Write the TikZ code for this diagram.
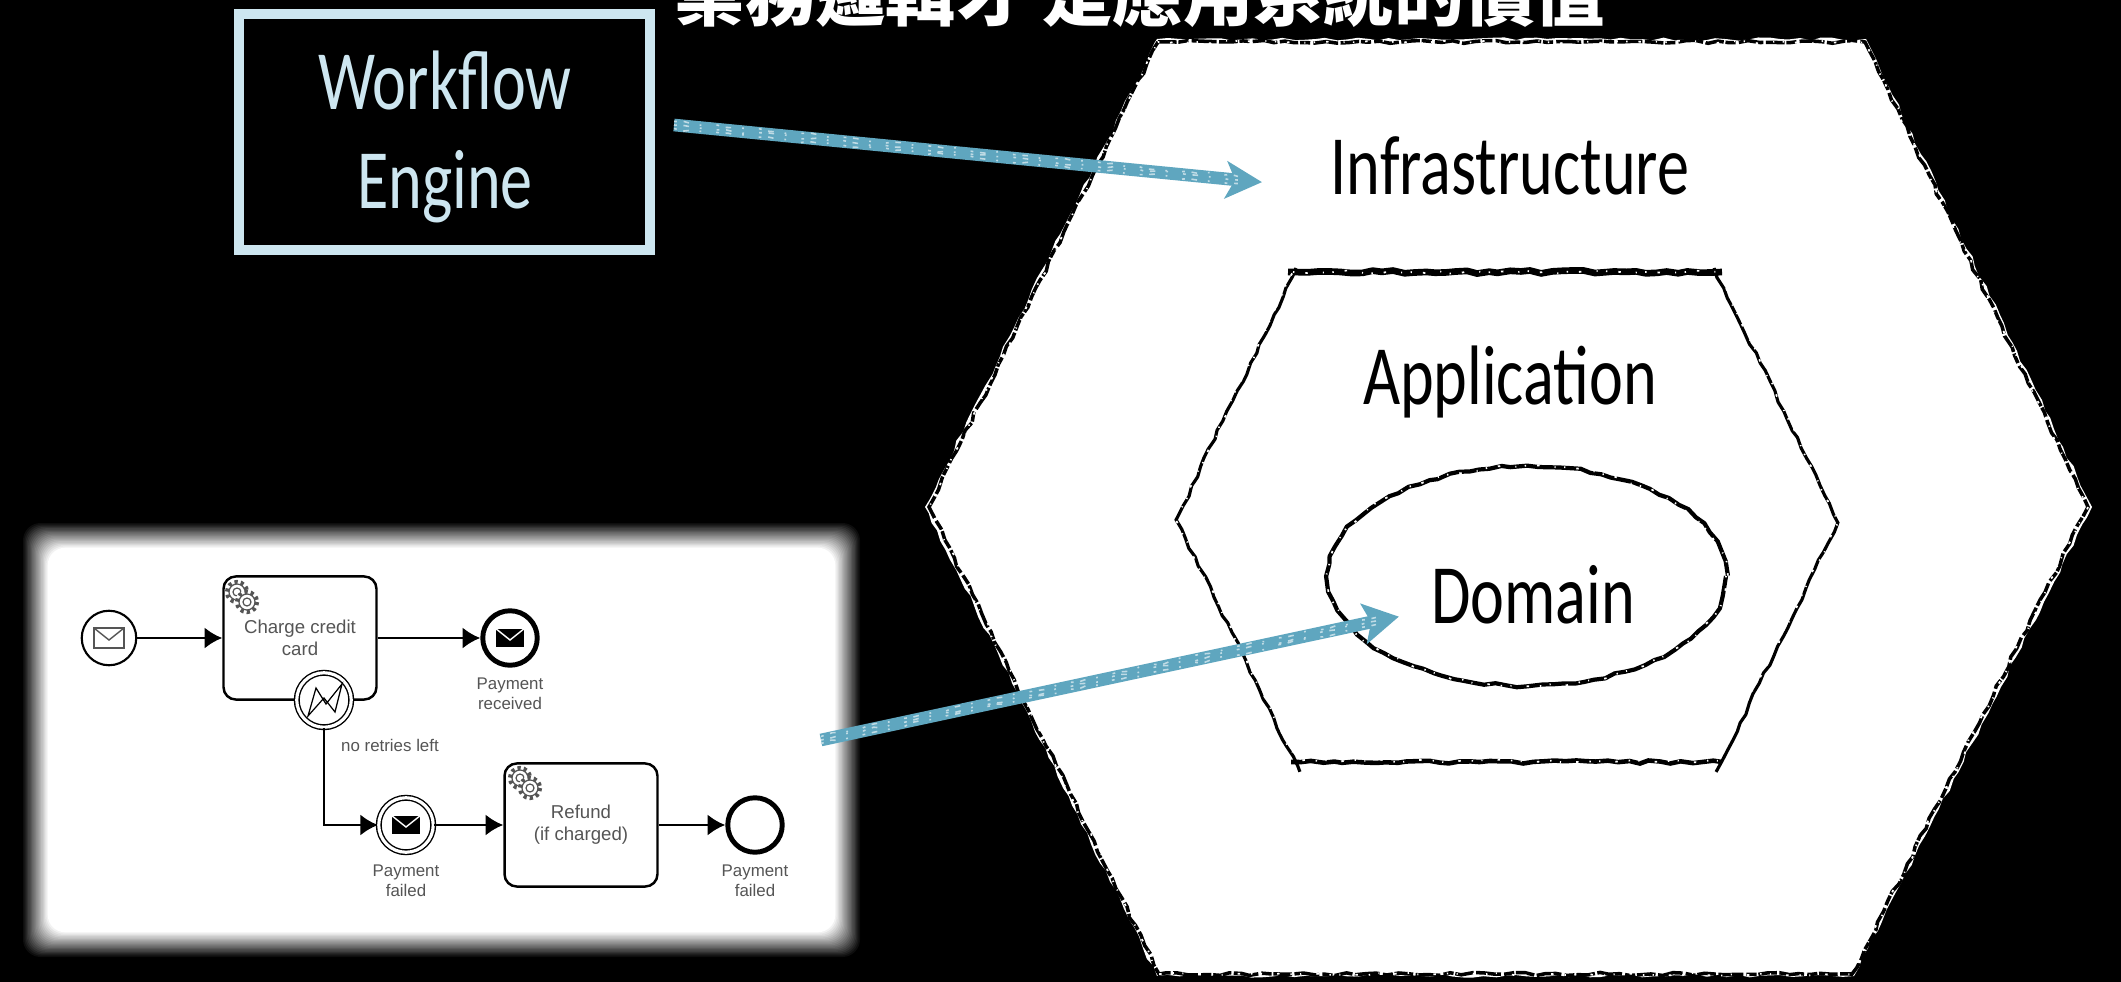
\documentclass[tikz,border=0pt]{standalone}
\usepackage{fontspec}
\setmainfont{Liberation Sans}
\newfontfamily\sketchfont{Carlito}
\newfontfamily\titlefont{Noto Sans CJK TC}
\usetikzlibrary{arrows.meta,decorations.pathmorphing}

\definecolor{chalkblue}{HTML}{5FA6BF}
\definecolor{paleblue}{HTML}{CDE6F0}
\definecolor{labelgray}{HTML}{555555}

\tikzset{
    sketchlabel/.style={font=\sketchfont\fontsize{#1}{#1}\selectfont, inner sep=0pt, xscale=0.76, transform shape},
    rough/.style={decorate, decoration={random steps, segment length=3pt, amplitude=0.45pt}},
    scratchblack/.style={black, rough, dash pattern=on 5.3pt off 0.5pt on 2.9pt off 0.9pt on 7.1pt off 0.7pt},
    scratchwhite/.style={white, rough, dash pattern=on 0.4pt off 3.1pt on 0.7pt off 4.3pt on 0.3pt off 2.4pt},
    chalkarrow/.style={draw=chalkblue, line width=3.6pt},
    chalkhead/.style={draw=chalkblue, line width=0.5pt, fill=chalkblue},
    speckle/.style={draw=white!60!chalkblue, line width=0.45pt, rough, dash pattern=on 0.8pt off 1.9pt on 1.6pt off 3.1pt on 0.5pt off 4.3pt},
    taskbox/.style={draw=black, line width=0.7pt, fill=white, rounded corners=3.5pt, align=center,
        text=labelgray, inner sep=0pt, font=\fontsize{5.3}{6.2}\selectfont},
    eventnode/.style={circle, draw=black, fill=white, inner sep=0pt, minimum size=15.5pt, line width=0.6pt},
    endnode/.style={eventnode, line width=1.4pt},
    catchnode/.style={eventnode, double=white, double distance=0.9pt, line width=0.4pt},
    eventlabel/.style={text=labelgray, align=center, inner sep=0pt, font=\fontsize{4.8}{5.6}\selectfont},
    flow/.style={draw=black, line width=0.8pt, -{Latex[length=5pt,width=6pt]}},
}

% Envelope inside an event
\newcommand{\mailicon}[3]{
    \begin{scope}[shift={(#1)}]
        \draw[fill=#2, draw=#3, line width=0.4pt] (-15,-10) rectangle (15,10);
        \draw[draw=#3, line width=0.4pt] (-15,-10) -- (0,2) -- (15,-10);
    \end{scope}
}

% Two small gears in the corner of a task
\newcommand{\gearicon}[1]{
    \begin{scope}[shift={(#1)}]
        \foreach \gx/\gy in {-5/-5,5/5} {
            \fill[white] (\gx,\gy) circle (12);
            \draw[labelgray, line width=1.2pt, dash pattern=on 0.9pt off 0.9pt] (\gx,\gy) circle (10);
            \draw[labelgray, line width=0.35pt] (\gx,\gy) circle (8);
            \draw[labelgray, line width=0.35pt] (\gx,\gy) circle (4);
        }
    \end{scope}
}

\begin{document}
\begin{tikzpicture}[x=0.01cm, y=-0.01cm]
    \clip (0,0) rectangle (2121,982);
    \fill[black] (0,0) rectangle (2121,982);
    \pgfmathsetseed{4242}

    % Draw title
    \node[text=white, inner sep=0pt, font=\titlefont\bfseries\fontsize{20}{20}\selectfont] (title) at (1140,-7) {業務邏輯才 是應用系統的價值};

    % Draw outer hexagon
    \fill[white, rough] (1157,39) -- (1866,39) -- (2092,507) -- (1854,976) -- (1157,976) -- (925,507) -- cycle;
    \draw[scratchblack, line width=1pt] (1158,42) -- (1865,42) -- (2088,507) -- (1852,974) -- (1159,974) -- (929,507) -- cycle;
    \draw[scratchwhite, line width=0.5pt] (1158,42) -- (1865,42) -- (2088,507) -- (1852,974) -- (1159,974) -- (929,507) -- cycle;

    % Draw inner hexagon
    \draw[black, line width=1.9pt, rough] (1288,272) -- (1722,272);
    \draw[black, line width=1.3pt, rough] (1291,762) -- (1722,762);
    \draw[black, line width=0.9pt, rough] (1296,268) -- (1176,520) -- (1300,772);
    \draw[black, line width=0.9pt, rough] (1714,268) -- (1838,523) -- (1716,772);
    \draw[scratchwhite, line width=0.5pt] (1293,272) -- (1718,272) -- (1838,523) -- (1718,761) -- (1297,761) -- (1176,520) -- cycle;

    % Draw domain ellipse
    \draw[black, line width=1.2pt, rough] (1527,576) ellipse (199 and 110);
    \draw[scratchwhite, line width=0.5pt] (1527,576) ellipse (199 and 110);

    % Draw hexagon labels
    \node[sketchlabel=24] (infra) at (1510,166) {Infrastructure};
    \node[sketchlabel=24] (application) at (1510,382) {Application};
    \node[sketchlabel=24] (domain) at (1533,595) {Domain};

    % Draw workflow engine box
    \draw[paleblue, line width=2.85pt] (239,14) rectangle (650,250);
    \node[sketchlabel=24, text=paleblue] (workflow) at (445,80) {Workflow};
    \node[sketchlabel=24, text=paleblue] (engine) at (445,187) {Engine};

    % Draw white card with blurred edge
    \foreach \i in {0,...,19} {
        \pgfmathsetmacro{\shade}{100*(\i+1)/20}
        \fill[white!\shade!black, rounded corners=5pt] (23+1.3*\i,523+1.3*\i) rectangle (860-1.3*\i,957-1.3*\i);
    }

    % Draw tasks
    \node[taskbox, minimum width=43.5pt, minimum height=35pt] (charge) at (300,638) {Charge credit\\card};
    \node[taskbox, minimum width=43.5pt, minimum height=35pt] (refund) at (581,825) {Refund\\(if charged)};
    \gearicon{242,597}
    \gearicon{525,783}

    % Draw events
    \node[eventnode] (start) at (109,638) {};
    \node[endnode] (received) at (510,638) {};
    \node[catchnode] (retries) at (324,700) {};
    \node[catchnode] (failedmail) at (406,825) {};
    \node[endnode] (failedend) at (755,825) {};
    \mailicon{start}{white}{labelgray}
    \mailicon{received}{black}{white}
    \mailicon{failedmail}{black}{white}
    \draw[black, line width=0.35pt] (308,716) -- (316,688) -- (326,704) -- (342,684) -- (335,712) -- (324,698) -- cycle;

    % Draw flows
    \draw[flow] (start) -- (charge);
    \draw[flow] (charge) -- (received);
    \draw[flow] (retries) |- (failedmail);
    \draw[flow] (failedmail) -- (refund);
    \draw[flow] (refund) -- (failedend);

    % Draw event labels
    \node[eventlabel] (receivedtext) at (510,694) {Payment\\received};
    \node[eventlabel] (retriestext) at (390,745) {no retries left};
    \node[eventlabel] (failedmailtext) at (406,881) {Payment\\failed};
    \node[eventlabel] (failedendtext) at (755,881) {Payment\\failed};

    % Draw arrows
    \coordinate (enginetail) at (674,125);
    \coordinate (enginemid) at (1238,180);
    \coordinate (enginetip) at (1260,182);
    \coordinate (cardtail) at (821,740);
    \coordinate (cardmid) at (1376,621);
    \coordinate (cardtip) at (1397,617);
    \draw[chalkarrow] (enginetail) -- (enginemid);
    \draw[chalkhead] (enginetip) -- (1229,163) -- (1236,180) -- (1226,197) -- cycle;
    \draw[speckle] (enginetail) -- (enginemid);
    \draw[speckle] ([yshift=1pt]enginetail) -- ([yshift=1pt]enginemid);
    \draw[speckle] ([yshift=-1pt]enginetail) -- ([yshift=-1pt]enginemid);
    \draw[chalkarrow] (cardtail) -- (cardmid);
    \draw[chalkhead] (cardtip) -- (1362,605) -- (1372,622) -- (1368,642) -- cycle;
    \draw[speckle] (cardtail) -- (cardmid);
    \draw[speckle] ([yshift=1pt]cardtail) -- ([yshift=1pt]cardmid);
    \draw[speckle] ([yshift=-1pt]cardtail) -- ([yshift=-1pt]cardmid);
\end{tikzpicture}
\end{document}
